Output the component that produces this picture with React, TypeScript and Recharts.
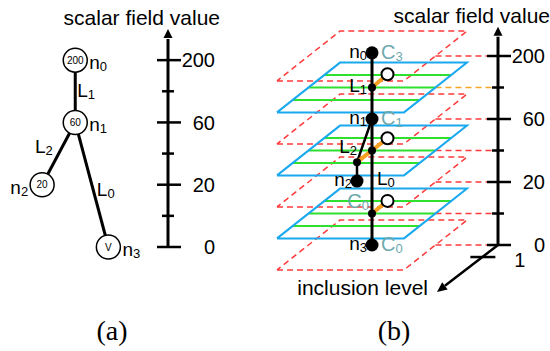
import React from 'react';
import { ComposedChart, Line, Scatter, XAxis, YAxis, ReferenceLine } from 'recharts';

const FONT = '"Liberation Sans", Arial, Helvetica, sans-serif';
const SERIF = '"Liberation Serif", "Times New Roman", serif';

// scalar field axis, shared by both panels (levels are evenly spaced)
const scalarLevels = [0, 1, 2, 3, 4, 5, 6];
const scalarLabels = ['0', '', '20', '', '60', '', '200'];

// (a) merge tree: nodes with their scalar value
const treeNodesA = [
  { sub: '0', value: '200', x: 1, level: 6 },
  { sub: '1', value: '60', x: 1, level: 4 },
  { sub: '2', value: '20', x: 0, level: 2 },
  { sub: '3', value: 'V', x: 2, level: 0 },
];
const treeEdgesA = [
  { from: 0, to: 1, label: '1' },
  { from: 1, to: 2, label: '2' },
  { from: 1, to: 3, label: '0' },
];

// (b) nodes of the tree in the (layout, scalar level) plane, with component names
const treeNodesB = [
  { sub: '0', comp: '3', x: 0, level: 6.1 },
  { sub: '1', comp: '1', x: 0, level: 4 },
  { sub: '2', comp: '', x: -1.5, level: 2.03 },
  { sub: '3', comp: '0', x: 0, level: 0 },
];
const treeEdgesB = [
  { label: '1', path: [{ x: 0, level: 6.1 }, { x: 0, level: 4 }] },
  { label: '2', path: [{ x: 0, level: 4 }, { x: -1.5, level: 2.63 }, { x: -1.5, level: 2.03 }] },
  { label: '0', path: [{ x: 0, level: 4 }, { x: 0, level: 0 }] },
];
const sliceLevels = [5, 3, 1]; // cyan iso-slices
const valueLevels = [6, 4, 2, 0]; // red dashed level planes
const crossingsB = [
  { x: 0, level: 5 },
  { x: 0, level: 3 },
  { x: -1.5, level: 2.63 },
  { x: 0, level: 1 },
];
const contoursB = [
  { x: 1.55, level: 5.42 },
  { x: 1.55, level: 3.39 },
  { x: 1.55, level: 1.4 },
];
const sliceLinks = [
  { from: { x: 0, level: 5 }, to: { x: 1.55, level: 5.42 } },
  { from: { x: -1.5, level: 2.63 }, to: { x: 1.55, level: 3.39 } },
  { from: { x: 0, level: 1 }, to: { x: 1.55, level: 1.4 } },
];
const sliceComponents = [{ sub: '0', x: 0, level: 1 }];
const inclusionTicks = [{ value: 1, label: '1' }];
const inclusionMax = 3.9;

// layout constants
const AXIS_A = 3.8;
const AXIS_B = 12.6;
const HALF_W = 6.35;
const DEPTH_X = 3.15;
const DEPTH_L = 0.79;

const planePath = (l: number) => [
  { x: -HALF_W - DEPTH_X, level: l - DEPTH_L },
  { x: HALF_W - DEPTH_X, level: l - DEPTH_L },
  { x: HALF_W + DEPTH_X, level: l + DEPTH_L },
  { x: -HALF_W + DEPTH_X, level: l + DEPTH_L },
  { x: -HALF_W - DEPTH_X, level: l - DEPTH_L },
];
const gridLines = (l: number) =>
  [0.25, 0.5, 0.75].map((t) => {
    const shift = DEPTH_X - t * 2 * DEPTH_X;
    const lv = l + DEPTH_L - t * 2 * DEPTH_L;
    return [
      { x: -HALF_W + shift, level: lv },
      { x: HALF_W + shift, level: lv },
    ];
  });

const arrowPoints = (x1: number, y1: number, x2: number, y2: number, len = 9, half = 4.5) => {
  const d = Math.hypot(x2 - x1, y2 - y1);
  const ux = (x2 - x1) / d;
  const uy = (y2 - y1) / d;
  const bx = x2 - ux * len;
  const by = y2 - uy * len;
  return {
    bx,
    by,
    pts: `${x2},${y2} ${bx - uy * half},${by + ux * half} ${bx + uy * half},${by - ux * half}`,
  };
};

const ScalarTick = (props: any) => {
  const { x, y, payload } = props;
  const major = payload.value % 2 === 0;
  const label = scalarLabels[scalarLevels.indexOf(payload.value)];
  return (
    <g>
      <line x1={x - (major ? 11 : 6)} x2={x + (major ? 13 : 6)} y1={y} y2={y} stroke="#000" strokeWidth={2.5} />
      {label && (
        <text x={x + 47} y={y} dy="0.36em" textAnchor="end" fontSize={20} fontFamily={FONT} fill="#000">
          {label}
        </text>
      )}
    </g>
  );
};

const ValueAxis = (props: any) => {
  const { x1, y1, x2, y2 } = props;
  const a = arrowPoints(x1, y1, x2, y2, 9, 4.5);
  return (
    <g>
      <line x1={x1} y1={y1} x2={a.bx} y2={a.by + 1} stroke="#000" strokeWidth={3} />
      <polygon points={a.pts} fill="#000" />
      <text x={x2 + 52} y={y2 - 4} textAnchor="end" fontSize={21} fontFamily={FONT} fill="#000">
        scalar field value
      </text>
    </g>
  );
};

const InclusionAxis = (props: any) => {
  const { x1, y1, x2, y2 } = props;
  const a = arrowPoints(x1, y1, x2, y2, 10, 4.5);
  return (
    <g>
      <line x1={x1} y1={y1} x2={a.bx} y2={a.by} stroke="#000" strokeWidth={2.5} />
      <polygon points={a.pts} fill="#000" />
      {inclusionTicks.map((t) => {
        const f = t.value / inclusionMax;
        const tx = x1 + (x2 - x1) * f;
        const ty = y1 + (y2 - y1) * f;
        return (
          <g key={t.label}>
            <line x1={tx - 12} x2={tx + 13} y1={ty} y2={ty} stroke="#000" strokeWidth={2.5} />
            <text x={tx + 32} y={ty + 10} fontSize={20} fontFamily={FONT} fill="#000">
              {t.label}
            </text>
          </g>
        );
      })}
      <text x={x2 - 9} y={y2 + 3} textAnchor="end" fontSize={21} fontFamily={FONT} fill="#000">
        inclusion level
      </text>
    </g>
  );
};

const NodeA = (props: any) => {
  const { cx, cy, payload } = props;
  const left = payload.sub === '2';
  return (
    <g>
      <circle cx={cx} cy={cy} r={12} fill="#fff" stroke="#000" strokeWidth={1.5} />
      <text x={cx} y={cy} dy="0.36em" textAnchor="middle" fontSize={10} fontFamily={FONT} fill="#000">
        {payload.value}
      </text>
      <text x={left ? cx - 14 : cx + 14} y={cy + 9} textAnchor={left ? 'end' : 'start'} fontSize={19} fontFamily={FONT} fill="#000">
        n<tspan fontSize={13} dy={2}>{payload.sub}</tspan>
      </text>
    </g>
  );
};

const edgeLabelA: Record<string, { dx: number; dy: number; anchor: string }> = {
  '1': { dx: 2, dy: 6, anchor: 'start' },
  '2': { dx: -6, dy: -1, anchor: 'end' },
  '0': { dx: 5, dy: 11, anchor: 'start' },
};

const EdgeLabel = (offsets: Record<string, { dx: number; dy: number; anchor: string }>) => (props: any) => {
  const { cx, cy, payload } = props;
  const o = offsets[payload.label];
  return (
    <text x={cx + o.dx} y={cy + o.dy} textAnchor={o.anchor as any} fontSize={19} fontFamily={FONT} fill="#000">
      L<tspan fontSize={13} dy={2}>{payload.label}</tspan>
    </text>
  );
};

const edgeLabelsA = treeEdgesA.map((e) => ({
  label: e.label,
  x: (treeNodesA[e.from].x + treeNodesA[e.to].x) / 2,
  level: (treeNodesA[e.from].level + treeNodesA[e.to].level) / 2,
}));

const edgeLabelB: Record<string, { dx: number; dy: number; anchor: string }> = {
  '1': { dx: -5, dy: 6, anchor: 'end' },
  '2': { dx: -7.5, dy: 12, anchor: 'end' },
  '0': { dx: 5, dy: 3, anchor: 'start' },
};

const edgeLabelsB = treeEdgesB.map((e) => ({
  label: e.label,
  x: (e.path[0].x + e.path[1].x) / 2,
  level: (e.path[0].level + e.path[1].level) / 2,
}));

const TEAL = '#6ea8ad';

const NodeB = (props: any) => {
  const { cx, cy, payload } = props;
  return (
    <g>
      <circle cx={cx} cy={cy} r={6.5} fill="#000" />
      <text x={cx - 5} y={cy + 5} textAnchor="end" fontSize={19} fontFamily={FONT} fill="#000">
        n<tspan fontSize={13} dy={2}>{payload.sub}</tspan>
      </text>
      {payload.comp && (
        <text x={cx + 9} y={cy + 6} fontSize={20} fontFamily={FONT} fill={TEAL}>
          C<tspan fontSize={13} dy={2}>{payload.comp}</tspan>
        </text>
      )}
    </g>
  );
};

const SliceComponent = (props: any) => {
  const { cx, cy, payload } = props;
  return (
    <text x={cx - 3} y={cy - 6} textAnchor="end" fontSize={20} fontFamily={FONT} fill={TEAL}>
      C<tspan fontSize={13} dy={2}>{payload.sub}</tspan>
    </text>
  );
};

const SmallDot = (props: any) => <circle cx={props.cx} cy={props.cy} r={4} fill="#000" />;
const OpenDot = (props: any) => (
  <circle cx={props.cx} cy={props.cy} r={6} fill="#fff" stroke="#000" strokeWidth={2} />
);

const lineProps = { dataKey: 'level', dot: false, activeDot: false, isAnimationActive: false } as const;

const PanelA = () => (
  <ComposedChart width={260} height={280} margin={{ top: 29, right: 32, bottom: 33, left: 9 }}>
    <XAxis type="number" dataKey="x" domain={[-1, AXIS_A]} hide />
    <YAxis
      type="number"
      dataKey="level"
      domain={[0, 7]}
      orientation="right"
      width={60}
      ticks={scalarLevels}
      interval={0}
      axisLine={false}
      tickLine={false}
      tickSize={0}
      tickMargin={0}
      tick={(p: any) => <ScalarTick {...p} />}
    />
    <ReferenceLine segment={[{ x: AXIS_A, y: 0 }, { x: AXIS_A, y: 7 }]} ifOverflow="visible" shape={ValueAxis} />
    {treeEdgesA.map((e, i) => (
      <Line key={`ea${i}`} {...lineProps} data={[treeNodesA[e.from], treeNodesA[e.to]]} stroke="#000" strokeWidth={3} />
    ))}
    <Scatter data={edgeLabelsA} shape={EdgeLabel(edgeLabelA)} isAnimationActive={false} />
    <Scatter data={treeNodesA} shape={NodeA} isAnimationActive={false} />
  </ComposedChart>
);

const PanelB = () => (
  <ComposedChart width={290} height={310} margin={{ top: 24.5, right: 0, bottom: 14.6, left: 0 }}>
    <XAxis type="number" dataKey="x" domain={[-11.2, AXIS_B]} hide />
    <YAxis
      type="number"
      dataKey="level"
      domain={[-1.6, 7]}
      orientation="right"
      width={52}
      ticks={scalarLevels}
      interval={0}
      axisLine={false}
      tickLine={false}
      tickSize={0}
      tickMargin={0}
      tick={(p: any) => <ScalarTick {...p} />}
    />
    {valueLevels.map((l) => (
      <Line key={`rp${l}`} {...lineProps} data={planePath(l)} stroke="#ff3b3b" strokeWidth={1.5} strokeDasharray="6 4" />
    ))}
    {[...valueLevels, ...sliceLevels].map((l) => (
      <Line
        key={`rc${l}`}
        {...lineProps}
        data={[{ x: HALF_W, level: l }, { x: AXIS_B, level: l }]}
        stroke={l === 5 ? '#f5a623' : '#ff3b3b'}
        strokeWidth={1.5}
        strokeDasharray="6 4"
      />
    ))}
    {sliceLevels.map((l) =>
      gridLines(l).map((g, j) => (
        <Line key={`g${l}-${j}`} {...lineProps} data={g} stroke="#2fe02f" strokeWidth={2} />
      ))
    )}
    {sliceLevels.map((l) => (
      <Line key={`cp${l}`} {...lineProps} data={planePath(l)} stroke="#1aa9ee" strokeWidth={2} />
    ))}
    {treeEdgesB.map((e, i) => (
      <Line key={`eb${i}`} {...lineProps} data={e.path} stroke="#000" strokeWidth={i === 1 ? 2.5 : 3} />
    ))}
    {sliceLinks.map((s, i) => (
      <Line key={`sl${i}`} {...lineProps} data={[s.from, s.to]} stroke="#f5a020" strokeWidth={4} />
    ))}
    <ReferenceLine segment={[{ x: AXIS_B, y: 0 }, { x: AXIS_B, y: 6.93 }]} ifOverflow="visible" shape={ValueAxis} />
    <ReferenceLine segment={[{ x: AXIS_B, y: 0 }, { x: 6.5, y: -1.49 }]} ifOverflow="visible" shape={InclusionAxis} />
    <Scatter data={crossingsB} shape={SmallDot} isAnimationActive={false} />
    <Scatter data={contoursB} shape={OpenDot} isAnimationActive={false} />
    <Scatter data={edgeLabelsB} shape={EdgeLabel(edgeLabelB)} isAnimationActive={false} />
    <Scatter data={sliceComponents} shape={SliceComponent} isAnimationActive={false} />
    <Scatter data={treeNodesB} shape={NodeB} isAnimationActive={false} />
  </ComposedChart>
);

export default function App() {
  return (
    <div style={{ position: 'absolute', left: 0, top: 0, width: 550, height: 351, background: '#fff' }}>
      <div style={{ position: 'absolute', left: 0, top: 0 }}>
        <PanelA />
      </div>
      <div style={{ position: 'absolute', left: 260, top: 0 }}>
        <PanelB />
      </div>
      <svg width={550} height={51} style={{ position: 'absolute', left: 0, top: 300 }}>
        <text x={112} y={40} textAnchor="middle" fontSize={28} fontFamily={SERIF} fill="#000">
          (a)
        </text>
        <text x={394} y={40} textAnchor="middle" fontSize={28} fontFamily={SERIF} fill="#000">
          (b)
        </text>
      </svg>
    </div>
  );
}
